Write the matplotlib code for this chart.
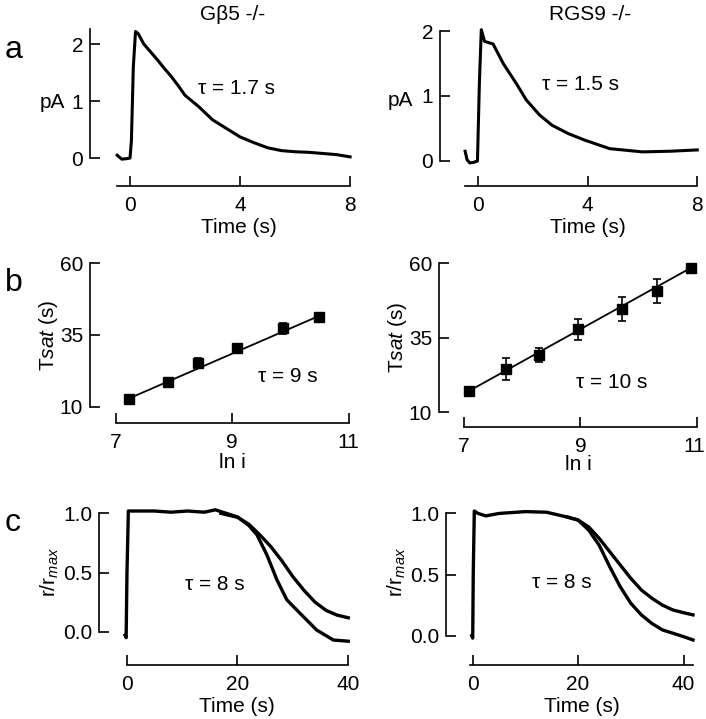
import numpy as np
import matplotlib
matplotlib.use("Agg")
import matplotlib.pyplot as plt
from matplotlib.transforms import ScaledTranslation

plt.rcParams['font.family'] = ['Liberation Sans', 'DejaVu Sans']
plt.rcParams['mathtext.fontset'] = 'custom'
plt.rcParams['mathtext.rm'] = 'Liberation Sans'
plt.rcParams['mathtext.it'] = 'Liberation Sans:italic'

W, H = 706, 719

# ---- panel a : photocurrent traces (pA vs s) ----
a_left_t = [-0.47, -0.3, -0.1, 0.0, 0.05, 0.12, 0.2, 0.3, 0.5, 0.75, 1.0, 1.25, 1.5,
            1.75, 2.0, 2.5, 3.0, 3.5, 4.0, 4.5, 5.0, 5.5, 6.0, 6.5, 7.0, 7.5, 8.0]
a_left_v = [0.05, -0.02, -0.01, 0.0, 0.3, 1.6, 2.22, 2.18, 2.0, 1.86, 1.72, 1.57, 1.43,
            1.27, 1.1, 0.9, 0.67, 0.52, 0.37, 0.27, 0.18, 0.13, 0.11, 0.10, 0.08, 0.06, 0.02]
a_right_t = [-0.47, -0.4, -0.3, -0.15, -0.02, 0.05, 0.12, 0.24, 0.55, 0.92, 1.4, 1.76,
             2.24, 2.7, 3.3, 3.9, 4.8, 6.0, 7.0, 8.0]
a_right_v = [0.15, 0.02, -0.03, -0.02, 0.0, 1.2, 2.02, 1.84, 1.8, 1.5, 1.19, 0.94,
             0.71, 0.55, 0.42, 0.32, 0.19, 0.14, 0.15, 0.17]

# ---- panel b : saturation time vs ln i ----
b_left_x = [7.22, 7.89, 8.41, 9.09, 9.87, 10.49]
b_left_y = [12.6, 18.7, 25.3, 30.6, 37.3, 41.1]
b_left_err = [0.8, 0.8, 1.5, 1.3, 2.0, 1.5]
b_left_fit_x = [7.22, 10.49]
b_left_fit_y = [12.8, 41.6]
b_right_x = [7.09, 7.72, 8.29, 8.95, 9.71, 10.32, 10.9]
b_right_y = [17.2, 24.4, 29.2, 37.9, 44.7, 50.7, 58.5]
b_right_err = [1.0, 3.7, 2.4, 3.5, 3.9, 4.0, 1.2]
b_right_fit_x = [7.09, 10.9]
b_right_fit_y = [17.2, 58.5]

# ---- panel c : normalized response ----
c_left_t = [-0.3, -0.1, 0.05, 0.3, 2, 5, 8, 11, 14, 16, 18, 20, 22, 23.5, 25.3, 27.1,
            28.9, 31.3, 34.3, 37.3, 40]
c_left_v = [-0.03, -0.05, 0.5, 1.02, 1.02, 1.02, 1.01, 1.02, 1.01, 1.03, 1.0, 0.97,
            0.9, 0.82, 0.65, 0.44, 0.27, 0.155, 0.014, -0.07, -0.08]
c_left_fit_t = [17, 20, 22, 24, 26, 28, 30, 32, 34, 36, 38, 40]
c_left_fit_v = [1.0, 0.967, 0.91, 0.82, 0.72, 0.6, 0.465, 0.35, 0.25, 0.18, 0.14, 0.118]
c_right_t = [-0.2, 0.0, 0.1, 0.3, 1, 2.5, 5, 10, 14, 18, 20, 22, 24, 26, 28, 30, 32,
             34, 36, 38, 40, 41.8]
c_right_v = [0.0, -0.02, 0.5, 1.02, 1.0, 0.98, 1.0, 1.015, 1.01, 0.97, 0.946, 0.864,
             0.74, 0.564, 0.4, 0.265, 0.17, 0.1, 0.047, 0.02, -0.008, -0.035]
c_right_fit_t = [18, 20, 22, 24, 26, 28, 30, 32, 34, 36, 38, 40, 41.8]
c_right_fit_v = [0.97, 0.946, 0.89, 0.796, 0.687, 0.578, 0.469, 0.374, 0.306, 0.25,
                 0.21, 0.188, 0.17]

fig = plt.figure(figsize=(W / 100, H / 100), dpi=100)
fig.patch.set_facecolor('white')

FS = 15


def rect(l, t, r, b):
    return [l / W, 1 - b / H, (r - l) / W, (b - t) / H]


def ftxt(x, y, s, **kw):
    kw.setdefault('ha', 'center')
    kw.setdefault('va', 'center')
    kw.setdefault('fontsize', FS)
    fig.text(x / W, 1 - y / H, s, **kw)


def igor(ax, xlim, ylim, xticks, yticks, xb, yb, xlabels=None, ylabels=None):
    ax.set_xlim(xlim)
    ax.set_ylim(ylim)
    ax.patch.set_visible(False)
    for s in ['top', 'right']:
        ax.spines[s].set_visible(False)
    ax.spines['left'].set_bounds(*yb)
    ax.spines['bottom'].set_bounds(*xb)
    ax.spines['left'].set_linewidth(1.2)
    ax.spines['bottom'].set_linewidth(1.2)
    ax.set_xticks(xticks)
    ax.set_yticks(yticks)
    if xlabels is not None:
        ax.set_xticklabels(xlabels)
    if ylabels is not None:
        ax.set_yticklabels(ylabels)
    ax.tick_params(direction='in', length=7, width=1.2, labelsize=FS)
    ax.tick_params(axis='x', pad=7)
    ax.tick_params(axis='y', pad=5)


# a left
ax = fig.add_axes(rect(90, 26, 352, 186))
ax.plot(a_left_t, a_left_v, color='black', lw=2.2, clip_on=False)
igor(ax, (-1.455, 8.07), (-0.491, 2.316), [0, 4, 8], [0, 1, 2], (-0.47, 8), (0, 2.27))

# a right
ax = fig.add_axes(rect(440, 26, 700, 186))
ax.plot(a_right_t, a_right_v, color='black', lw=2.2, clip_on=False)
igor(ax, (-1.387, 8.10), (-0.385, 2.077), [0, 4, 8], [0, 1, 2], (-0.47, 8), (0, 2))

# b left
ax = fig.add_axes(rect(90, 255, 352, 423))
ax.plot(b_left_fit_x, b_left_fit_y, color='black', lw=1.3)
ax.errorbar(b_left_x, b_left_y, yerr=b_left_err, fmt='s', color='black', ms=7.5,
            capsize=3, elinewidth=1.2, capthick=1.2)
igor(ax, (6.558, 11.06), (4.32, 62.86), [7, 9, 11], [10, 35, 60], (7, 11), (10, 60))

# b right
ax = fig.add_axes(rect(439, 255, 700, 427))
ax.plot(b_right_fit_x, b_right_fit_y, color='black', lw=1.3)
ax.errorbar(b_right_x, b_right_y, yerr=b_right_err, fmt='s', color='black', ms=7.5,
            capsize=3, elinewidth=1.2, capthick=1.2)
igor(ax, (6.570, 11.055), (5.07, 62.8), [7, 9, 11], [10, 35, 60], (7, 11), (10, 60))
# keep the "11" inside the figure edge
lab = ax.get_xticklabels()[-1]
lab.set_transform(lab.get_transform() + ScaledTranslation(-0.03, 0, fig.dpi_scale_trans))

# c left
ax = fig.add_axes(rect(99, 500, 352, 665))
ax.plot(c_left_t, c_left_v, color='black', lw=2.4, clip_on=False)
ax.plot(c_left_fit_t, c_left_fit_v, color='black', lw=2.4, clip_on=False)
igor(ax, (-5.0, 40.67), (-0.281, 1.113), [0, 20, 40], [0, 0.5, 1.0], (0, 40), (0, 1.0),
     ylabels=['0.0', '0.5', '1.0'])

# c right
ax = fig.add_axes(rect(446, 500, 700, 665))
ax.plot(c_right_t, c_right_v, color='black', lw=2.4, clip_on=False)
ax.plot(c_right_fit_t, c_right_fit_v, color='black', lw=2.4, clip_on=False)
igor(ax, (-5.07, 43.13), (-0.24, 1.11), [0, 20, 40], [0, 0.5, 1.0], (-0.5, 41.8), (0, 1.0),
     ylabels=['0.0', '0.5', '1.0'])

# titles, panel letters, labels
ftxt(233, 15, 'G\u03b25 -/-')
ftxt(590, 15, 'RGS9 -/-')
ftxt(14, 50, 'a', fontsize=23)
ftxt(14, 283, 'b', fontsize=23)
ftxt(13, 523, 'c', fontsize=23)

ftxt(52, 102, 'pA')
ftxt(400, 100, 'pA')
ftxt(236, 88, '\u03c4 = 1.7 s')
ftxt(580, 85, '\u03c4 = 1.5 s')
ftxt(239, 228, 'Time (s)')
ftxt(588, 228, 'Time (s)')

ftxt(49, 335, 'T$\\mathit{sat}$ (s)', rotation=90)
ftxt(398, 337, 'T$\\mathit{sat}$ (s)', rotation=90)
ftxt(288, 377, '\u03c4 = 9 s')
ftxt(612, 382, '\u03c4 = 10 s')
ftxt(232, 462, 'ln i')
ftxt(578, 465, 'ln i')

ftxt(50, 572, 'r/r$_{\\mathit{max}}$', rotation=90)
ftxt(397, 572, 'r/r$_{\\mathit{max}}$', rotation=90)
ftxt(215, 585, '\u03c4 = 8 s')
ftxt(562, 583, '\u03c4 = 8 s')
ftxt(237, 707, 'Time (s)')
ftxt(582, 707, 'Time (s)')

fig.savefig('out.png', dpi=100, facecolor='white')
